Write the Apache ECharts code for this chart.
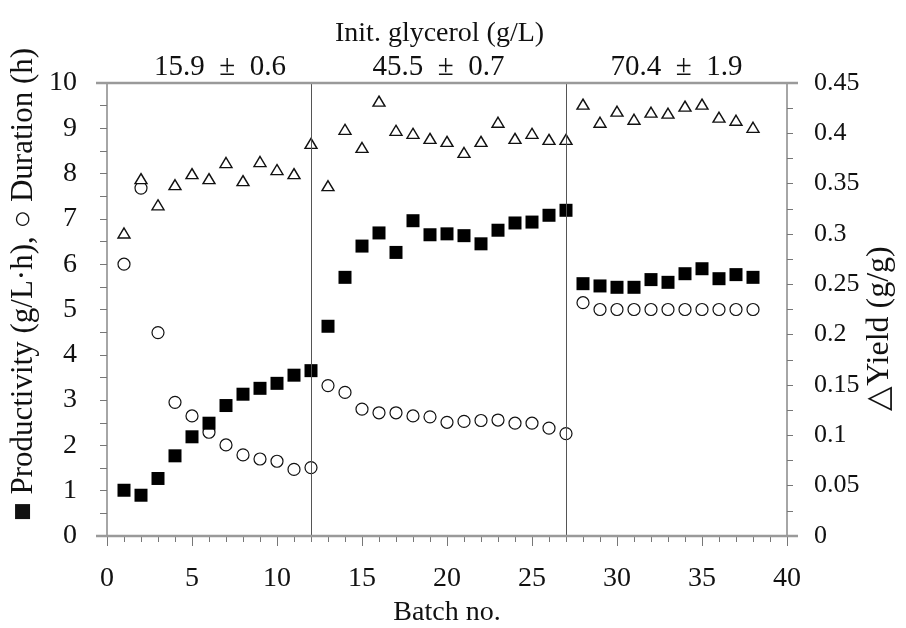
<!DOCTYPE html>
<html>
<head>
<meta charset="utf-8">
<script src="https://cdn.jsdelivr.net/npm/echarts@6/dist/echarts.min.js"></script>
<style>
  html, body { margin: 0; padding: 0; background: #fff; }
  #chart { width: 906px; height: 628px; }
</style>
</head>
<body>
<div id="chart"></div>
<script>
// Batch numbers
const batches = [1, 2, 3, 4, 5, 6, 7, 8, 9, 10, 11, 12, 13, 14, 15, 16, 17, 18, 19,
  20, 21, 22, 23, 24, 25, 26, 27, 28, 29, 30, 31, 32, 33, 34, 35, 36, 37, 38];

// Productivity (g/L·h)
const productivity = [1.01, 0.90, 1.27, 1.77, 2.19, 2.49, 2.88, 3.13, 3.26, 3.37, 3.55, 3.65,
  4.63, 5.71, 6.40, 6.69, 6.26, 6.96, 6.65, 6.67, 6.63, 6.45, 6.75, 6.91, 6.93, 7.08, 7.19,
  5.57, 5.52, 5.49, 5.49, 5.66, 5.60, 5.79, 5.90, 5.68, 5.77, 5.71];

// Duration (h)
const duration = [6.00, 7.68, 4.49, 2.95, 2.65, 2.29, 2.01, 1.79, 1.70, 1.65, 1.47, 1.51,
  3.32, 3.17, 2.80, 2.72, 2.72, 2.65, 2.63, 2.51, 2.53, 2.55, 2.56, 2.49, 2.49, 2.38, 2.26,
  5.15, 5.00, 5.00, 5.00, 5.00, 5.00, 5.00, 5.00, 5.00, 5.00, 5.00];

// Yield (g/g), right axis
const yieldGG = [0.301, 0.355, 0.329, 0.349, 0.360, 0.355, 0.371, 0.353, 0.372, 0.364, 0.360, 0.390,
  0.348, 0.404, 0.386, 0.432, 0.403, 0.400, 0.395, 0.392, 0.381, 0.392, 0.411, 0.395, 0.400, 0.394, 0.394,
  0.429, 0.411, 0.422, 0.414, 0.421, 0.420, 0.427, 0.429, 0.416, 0.413, 0.406];

// Initial glycerol phases: batch boundaries and labels
const phaseBounds = [0, 12, 27, 40];
const phaseLabels = ['15.9\u2002±\u20020.6', '45.5\u2002±\u20020.7', '70.4\u2002±\u20021.9'];

const FONT = 'Liberation Serif';
const AXIS_GREY = '#9a9a9a';

const pairs = arr => batches.map((b, i) => [b, arr[i]]);

const chart = echarts.init(document.getElementById('chart'), null, { renderer: 'canvas' });

const phaseAreas = phaseLabels.map((txt, i) => [
  { xAxis: phaseBounds[i], name: txt, label: { offset: [i === 0 ? 11 : 0, 0] } },
  { xAxis: phaseBounds[i + 1] }
]);

const option = {
  animation: false,
  backgroundColor: '#fff',
  textStyle: { fontFamily: FONT },
  title: {
    text: 'Init. glycerol (g/L)',
    left: 335,
    top: 20,
    padding: 0,
    textStyle: { fontFamily: FONT, fontSize: 28, fontWeight: 'normal', color: '#111' }
  },
  grid: { left: 107, right: 119, top: 83, bottom: 92, containLabel: false, outerBoundsMode: 'none' },
  xAxis: [{
    type: 'value',
    position: 'bottom',
    min: 0, max: 40, interval: 5,
    name: 'Batch no.',
    nameLocation: 'middle',
    nameGap: 63,
    nameMoveOverlap: false,
    nameTextStyle: { fontFamily: FONT, fontSize: 28, color: '#111' },
    axisLine: { show: false },
    axisTick: { show: true, inside: false, length: 10, lineStyle: { color: '#777', width: 1 } },
    minorTick: { show: true, splitNumber: 5, length: 6, lineStyle: { color: '#777', width: 1 } },
    axisLabel: { fontFamily: FONT, fontSize: 28, color: '#111', margin: 29 },
    splitLine: { show: false }
  }],
  yAxis: [{
    type: 'value',
    position: 'left',
    min: 0, max: 10, interval: 1,
    name: '■ Productivity (g/L·h), ○ Duration (h)',
    nameLocation: 'middle',
    nameRotate: 90,
    nameGap: 68,
    nameMoveOverlap: false,
    nameTextStyle: { fontFamily: FONT, fontSize: 31, color: '#111', padding: [0, 0, 0, 50] },
    axisLine: { show: true, lineStyle: { color: '#888', width: 1.5 } },
    axisTick: { show: true, inside: false, length: 7, lineStyle: { color: '#777', width: 1 } },
    minorTick: { show: true, splitNumber: 2, length: 7, lineStyle: { color: '#777', width: 1 } },
    axisLabel: { fontFamily: FONT, fontSize: 28, color: '#111', margin: 30 },
    splitLine: { show: false }
  }, {
    type: 'value',
    position: 'right',
    min: 0, max: 0.45, interval: 0.05,
    name: '△Yield (g/g)',
    nameLocation: 'middle',
    nameRotate: 90,
    nameGap: 77,
    nameMoveOverlap: false,
    nameTextStyle: { fontFamily: FONT, fontSize: 32, color: '#111', padding: [0, 38, 0, 0] },
    axisLine: { show: true, lineStyle: { color: '#888', width: 1.5 } },
    axisTick: { show: true, inside: false, length: 6, lineStyle: { color: '#777', width: 1 } },
    minorTick: { show: true, splitNumber: 2, length: 6, lineStyle: { color: '#777', width: 1 } },
    axisLabel: { fontFamily: FONT, fontSize: 26, color: '#111', margin: 27 },
    splitLine: { show: false }
  }],
  series: [{
    name: 'Productivity',
    type: 'scatter',
    yAxisIndex: 0,
    data: pairs(productivity),
    symbol: 'rect',
    symbolSize: 13,
    itemStyle: { color: '#000', opacity: 1 },
    z: 4,
    markLine: {
      silent: true,
      symbol: 'none',
      label: { show: false },
      lineStyle: { color: '#555', width: 1, type: 'solid' },
      data: phaseBounds.slice(1, -1).map(b => ({ xAxis: b }))
    },
    markArea: {
      silent: true,
      itemStyle: { color: 'rgba(0,0,0,0)' },
      label: {
        show: true,
        position: 'top',
        distance: 1,
        fontFamily: FONT,
        fontSize: 29,
        color: '#111'
      },
      data: phaseAreas
    }
  }, {
    name: 'Duration',
    type: 'scatter',
    yAxisIndex: 0,
    data: pairs(duration),
    symbol: 'circle',
    symbolSize: 12,
    itemStyle: { color: '#fff', borderColor: '#111', borderWidth: 1.2, opacity: 1 },
    z: 3
  }, {
    name: 'Yield',
    type: 'scatter',
    yAxisIndex: 1,
    data: pairs(yieldGG),
    symbol: 'triangle',
    symbolSize: [12, 10],
    itemStyle: { color: '#fff', borderColor: '#111', borderWidth: 1.4, opacity: 1 },
    z: 3
  }]
};

chart.setOption(option);

// Horizontal frame lines at the top and bottom of the plot, running a little past both sides
const pBL = chart.convertToPixel({ xAxisIndex: 0, yAxisIndex: 0 }, [0, 0]);
const pTR = chart.convertToPixel({ xAxisIndex: 0, yAxisIndex: 0 }, [40, 10]);
const overhang = 11;
chart.setOption({
  graphic: [pBL[1], pTR[1]].map(y => ({
    type: 'line',
    z: 10,
    shape: { x1: pBL[0] - overhang, y1: y, x2: pTR[0] + overhang, y2: y },
    style: { stroke: AXIS_GREY, lineWidth: 2.5 }
  }))
});
</script>
</body>
</html>
